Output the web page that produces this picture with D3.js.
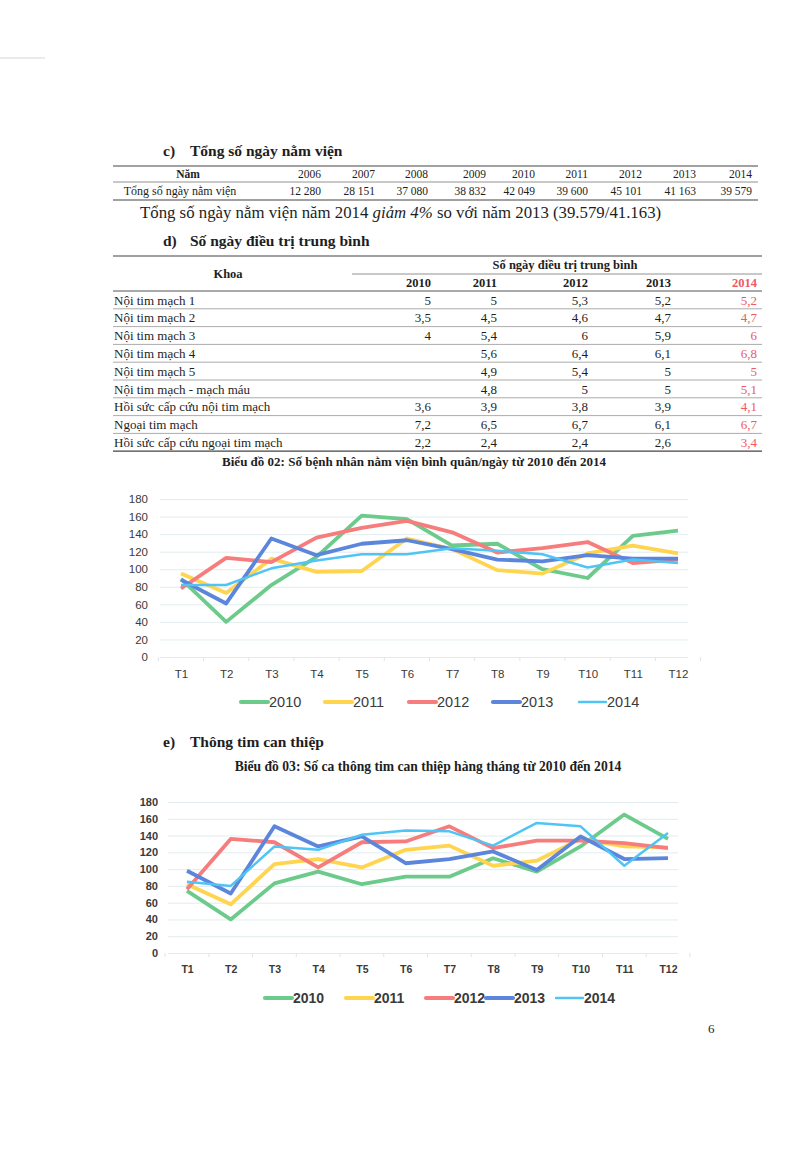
<!DOCTYPE html>
<html><head><meta charset="utf-8">
<script src="https://cdn.jsdelivr.net/npm/d3@7"></script>
<style>
html,body{margin:0;padding:0;background:#fff;}
svg{display:block;}
</style></head>
<body>
<script>
// ===== DATA =====
const tableYears = ["2006","2007","2008","2009","2010","2011","2012","2013","2014"];
const tableDays = ["12 280","28 151","37 080","38 832","42 049","39 600","45 101","41 163","39 579"];

const departments = ["Nội tim mạch 1","Nội tim mạch 2","Nội tim mạch 3","Nội tim mạch 4","Nội tim mạch 5","Nội tim mạch - mạch máu","Hồi sức cấp cứu nội tim mạch","Ngoại tim mạch","Hồi sức cấp cứu ngoại tim mạch"];
const avgYears = ["2010","2011","2012","2013","2014"];
const avg2010 = ["5","3,5","4","","","","3,6","7,2","2,2"];
const avg2011 = ["5","4,5","5,4","5,6","4,9","4,8","3,9","6,5","2,4"];
const avg2012 = ["5,3","4,6","6","6,4","5,4","5","3,8","6,7","2,4"];
const avg2013 = ["5,2","4,7","5,9","6,1","5","5","3,9","6,1","2,6"];
const avg2014 = ["5,2","4,7","6","6,8","5","5,1","4,1","6,7","3,4"];

const months = ["T1","T2","T3","T4","T5","T6","T7","T8","T9","T10","T11","T12"];
const seriesYears = ["2010","2011","2012","2013","2014"];
const yTicks = [0,20,40,60,80,100,120,140,160,180];

// Chart 02: inpatients per day (average)
const bn2010 = [89,40,82,114,161,157,127,129,100,90,138,144];
const bn2011 = [95,73,112,97,98,135,123,99,95,118,127,118];
const bn2012 = [78,113,108,136,147,155,142,119,124,131,107,111];
const bn2013 = [88,61,135,116,129,133,123,111,109,116,112,112];
const bn2014 = [82,82,101,110,117,117,124,121,117,102,111,107];

// Chart 03: interventional catheterisations per month
const tt2010 = [74,40,83,97,82,91,91,113,97,127,165,136];
const tt2011 = [82,58,106,112,102,123,128,104,110,136,127,126];
const tt2012 = [76,136,132,102,132,133,151,125,134,134,131,125];
const tt2013 = [98,71,151,127,139,107,112,121,99,139,112,113];
const tt2014 = [85,80,127,123,141,146,145,128,155,151,104,143];

// ===== STYLE =====
const colors = {"2010":"#6ccb8b","2011":"#ffd44e","2012":"#f77c7c","2013":"#5b86dc","2014":"#50c4f4"};
const widths = {"2010":3.8,"2011":3.8,"2012":3.8,"2013":3.8,"2014":2.5};
const serif = "'Liberation Serif','Times New Roman',serif";
const sans = "'Liberation Sans',Arial,sans-serif";

const W = 800, H = 1149;
const svg = d3.select("body").append("svg").attr("width",W).attr("height",H);
svg.append("rect").attr("width",W).attr("height",H).attr("fill","#fff");

// faint scan mark
svg.append("line").attr("x1",0).attr("x2",45).attr("y1",58).attr("y2",58).attr("stroke","#d8d8d8").attr("stroke-width",1);

function text(x,y,s,o={}){
  return svg.append("text").attr("x",x).attr("y",y).text(s)
    .attr("font-family",o.family||serif).attr("font-size",o.size||12)
    .attr("font-weight",o.weight||"normal").attr("font-style",o.style||"normal")
    .attr("fill",o.fill||"#1e1e1e").attr("text-anchor",o.anchor||"start");
}
function hline(x1,x2,y,w=1,c="#555"){
  svg.append("line").attr("x1",x1).attr("x2",x2).attr("y1",y).attr("y2",y).attr("stroke",c).attr("stroke-width",w);
}

// ===== Section c =====
text(163,156,"c)",{size:15.5,weight:"bold"});
text(190,156,"Tổng số ngày nằm viện",{size:15.5,weight:"bold"});
hline(113,758,166,1.2,"#444");
hline(113,758,182,0.8,"#777");
hline(113,758,200,1.2,"#444");
text(188,178,"Năm",{size:11.5,weight:"bold",anchor:"middle"});
text(180,195,"Tổng số ngày nằm viện",{size:12,anchor:"middle"});
const t1x = [321,375,428,486,535,588,642,696,752];
tableYears.forEach((y,i)=>{
  text(t1x[i],178,y,{size:11.5,anchor:"end"});
  text(t1x[i],195,tableDays[i],{size:11.5,anchor:"end"});
});
const sent = svg.append("text").attr("x",140).attr("y",218).attr("font-family",serif).attr("font-size",16.8).attr("fill","#1e1e1e");
sent.append("tspan").text("Tổng số ngày nằm viện năm 2014 ");
sent.append("tspan").attr("font-style","italic").text("giảm 4%");
sent.append("tspan").text(" so với năm 2013 (39.579/41.163)");

// ===== Section d =====
text(163,246,"d)",{size:15.5,weight:"bold"});
text(190,246,"Số ngày điều trị trung bình",{size:15.5,weight:"bold"});
hline(113,762,256,1.2,"#444");
hline(352,762,274,0.8,"#777");
hline(113,762,291,1.0,"#555");
text(228,278,"Khoa",{size:12.5,weight:"bold",anchor:"middle"});
text(565,269,"Số ngày điều trị trung bình",{size:12.5,weight:"bold",anchor:"middle"});
const t2x = [431,497,588,671,757];
const avgCols = [avg2010,avg2011,avg2012,avg2013,avg2014];
avgYears.forEach((y,i)=>{
  text(t2x[i],287,y,{size:12.5,weight:"bold",anchor:"end",fill: i===4?"#ee5a62":"#1e1e1e"});
});
const rowH = 17.8;
departments.forEach((d,r)=>{
  const cy = 300 + r*rowH;
  text(114,cy+4.5,d,{size:13});
  avgCols.forEach((col,i)=>{
    if(col[r]!=="") text(t2x[i],cy+4.5,col[r],{size:13,anchor:"end",fill: i===4?"#ee5a62":"#1e1e1e"});
  });
  hline(113,762,291+(r+1)*rowH, r===departments.length-1?1.2:0.7, r===departments.length-1?"#444":"#888");
});

// ===== Chart builder =====
function lineChart(cfg){
  const g = svg.append("g");
  const x = d3.scalePoint().domain(months).range([cfg.x0,cfg.x1]);
  const y = d3.scaleLinear().domain([0,180]).range([cfg.yb,cfg.yt]);
  // y axis + grid
  const ya = g.append("g").attr("transform",`translate(${cfg.gl},0)`)
    .call(d3.axisLeft(y).tickValues(yTicks).tickSizeInner(-(cfg.gr-cfg.gl)).tickSizeOuter(0).tickPadding(cfg.ypad));
  ya.select(".domain").remove();
  ya.selectAll(".tick line").attr("stroke","#e2ecef").attr("stroke-width",1);
  ya.selectAll(".tick text").attr("font-family",sans).attr("font-size",cfg.yfs).attr("font-weight",cfg.yfw).attr("fill","#3a3a3a");
  // x axis
  const xa = g.append("g").attr("transform",`translate(0,${cfg.yb})`)
    .call(d3.axisBottom(x).tickSize(0).tickPadding(cfg.xpad));
  xa.select(".domain").remove();
  xa.selectAll(".tick text").attr("font-family",sans).attr("font-size",cfg.xfs).attr("font-weight",cfg.xfw).attr("fill","#3a3a3a");
  // between-category ticks
  const step = x.step();
  const bounds = months.map(m=>x(m)-step/2).concat([x(months[months.length-1])+step/2]);
  g.selectAll(".ctick").data(bounds).join("line")
    .attr("x1",d=>d).attr("x2",d=>d).attr("y1",cfg.yb).attr("y2",cfg.yb+4)
    .attr("stroke","#dde6ea").attr("stroke-width",1);
  // lines
  const line = d3.line().x((d,i)=>x(months[i])).y(d=>y(d));
  g.selectAll(".series").data(cfg.series).join("path")
    .attr("d",d=>line(d.values)).attr("fill","none")
    .attr("stroke",d=>colors[d.year]).attr("stroke-width",d=>widths[d.year])
    .attr("stroke-linejoin","round").attr("stroke-linecap","butt");
  // legend
  const lg = g.append("g");
  cfg.series.forEach((s,i)=>{
    const lx = cfg.legX[i];
    lg.append("line").attr("x1",lx).attr("x2",lx+27).attr("y1",cfg.legY).attr("y2",cfg.legY)
      .attr("stroke",colors[s.year]).attr("stroke-width",s.year==="2014"?2.4:4.2).attr("stroke-linecap","round");
    lg.append("text").attr("x",lx+28).attr("y",cfg.legY+5).text(s.year)
      .attr("font-family",sans).attr("font-size",cfg.legFs).attr("font-weight",cfg.legFw).attr("fill","#3a3a3a");
  });
}

// Chart 02
text(414,466,"Biểu đồ 02: Số bệnh nhân nằm viện bình quân/ngày từ 2010 đến 2014",{size:13,weight:"bold",anchor:"middle"});
lineChart({
  x0:181,x1:678,yb:657,yt:499,gl:160,gr:688,ypad:12,yfs:11.5,yfw:"normal",xfs:11.5,xfw:"normal",xpad:13,
  series:[{year:"2010",values:bn2010},{year:"2011",values:bn2011},{year:"2012",values:bn2012},{year:"2013",values:bn2013},{year:"2014",values:bn2014}],
  legX:[241,325,409,493,579],legY:702,legFs:14.5,legFw:"normal"
});

// Section e
text(163,747,"e)",{size:15.5,weight:"bold"});
text(190,747,"Thông tim can thiệp",{size:15.5,weight:"bold"});

// Chart 03
text(428,771,"Biểu đồ 03: Số ca thông tim can thiệp hàng tháng từ 2010 đến 2014",{size:13.6,weight:"bold",anchor:"middle"});
lineChart({
  x0:187,x1:668,yb:953,yt:802,gl:168,gr:678,ypad:10,yfs:11,yfw:"bold",xfs:10.5,xfw:"bold",xpad:13,
  series:[{year:"2010",values:tt2010},{year:"2011",values:tt2011},{year:"2012",values:tt2012},{year:"2013",values:tt2013},{year:"2014",values:tt2014}],
  legX:[265,346,426,486,556],legY:998,legFs:14,legFw:"bold"
});

// page number
text(708,1033,"6",{size:13});
</script>
</body></html>
